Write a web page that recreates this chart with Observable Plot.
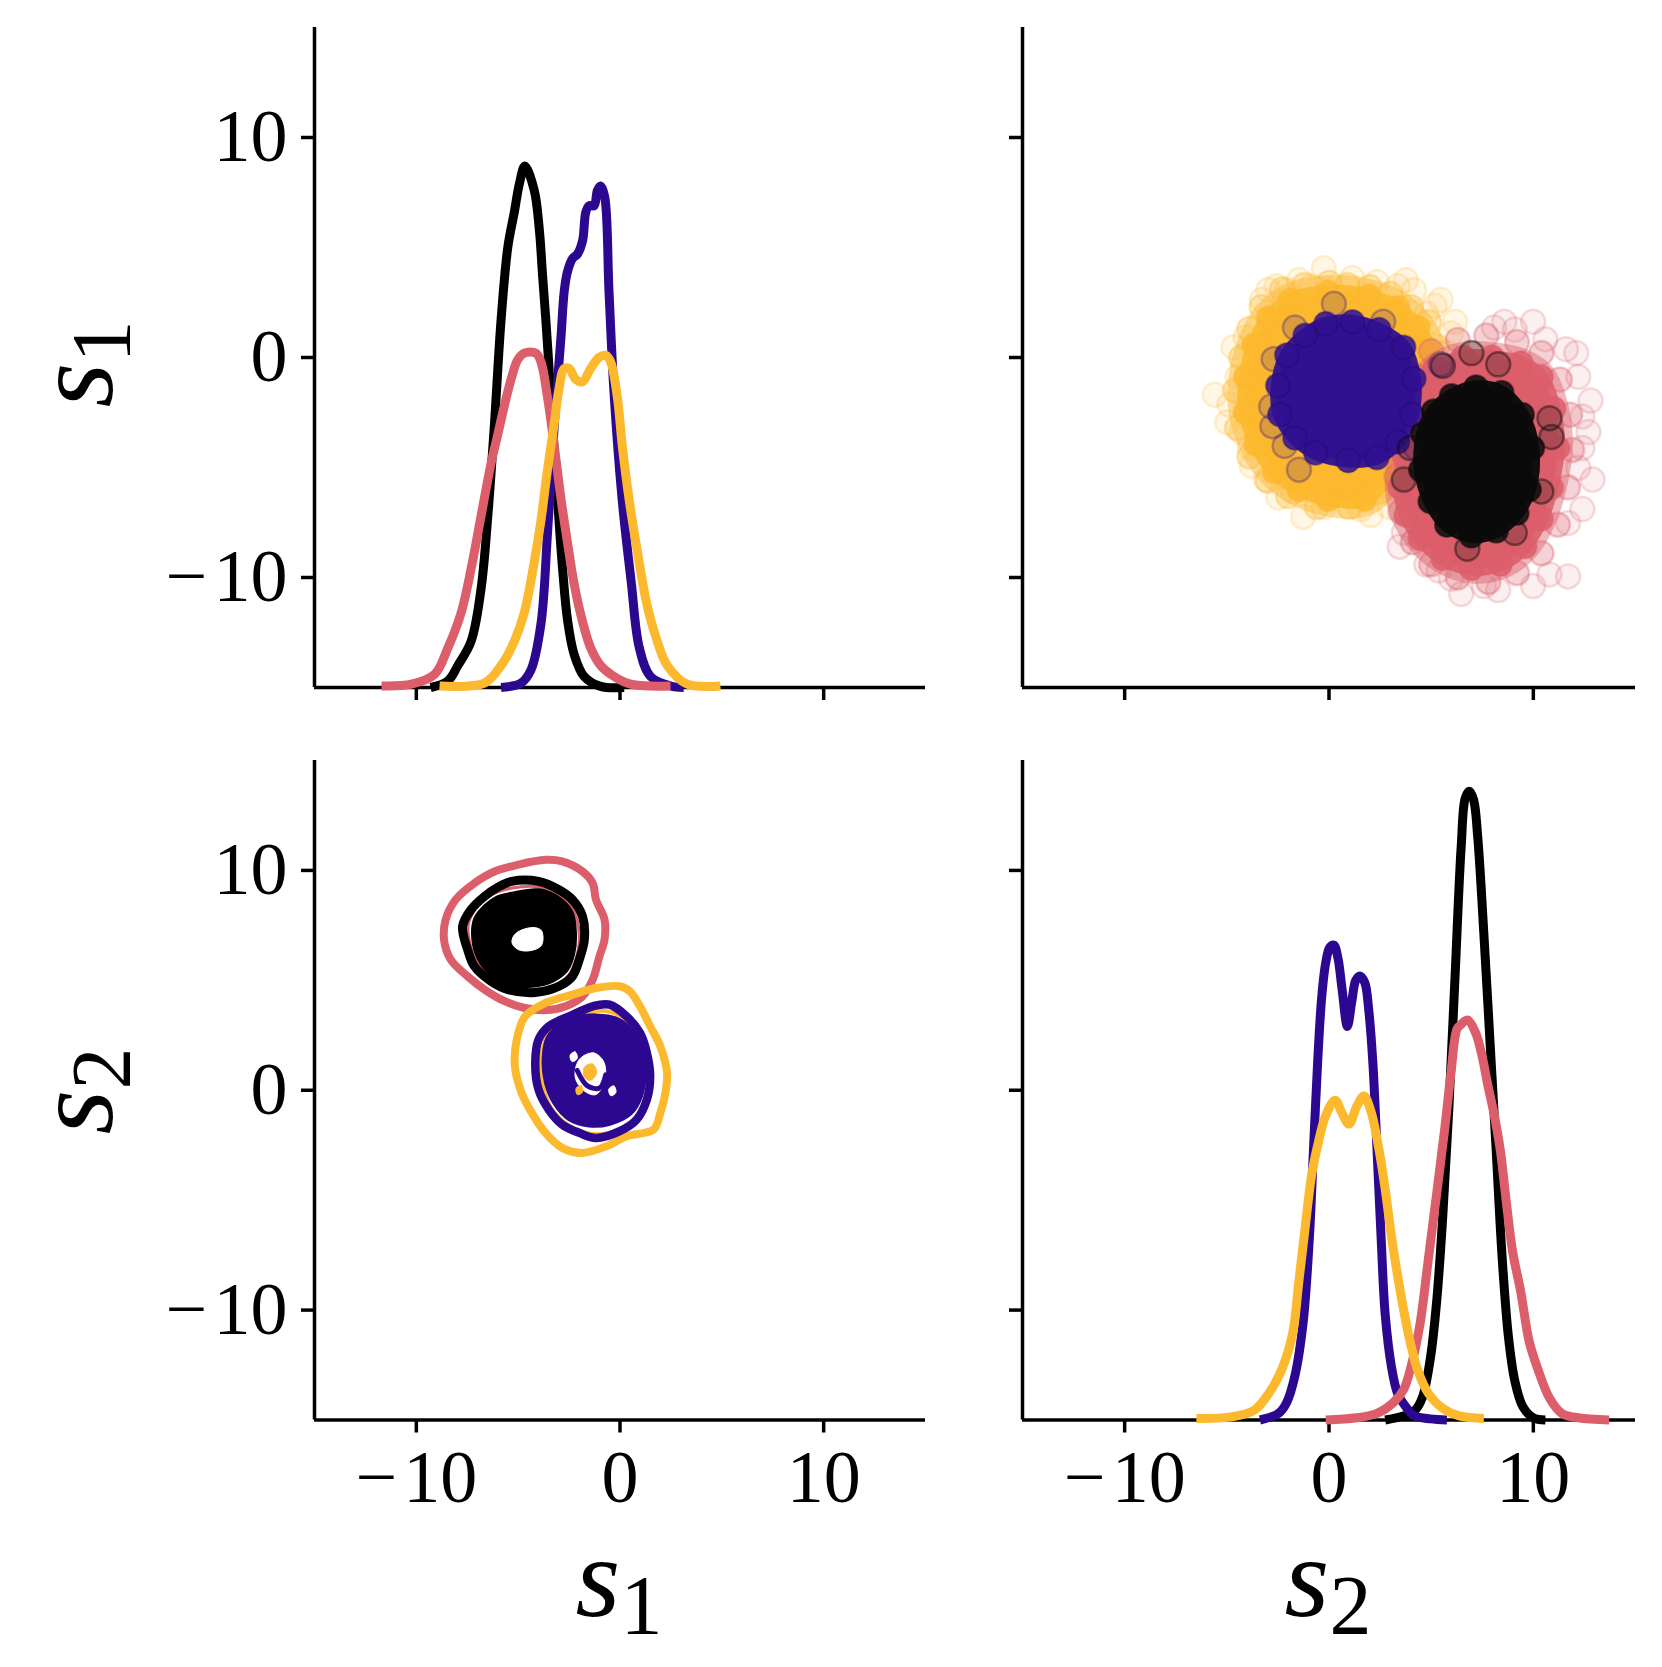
<!DOCTYPE html>
<html><head><meta charset="utf-8">
<script src="https://cdn.jsdelivr.net/npm/d3@7"></script>
<script src="https://cdn.jsdelivr.net/npm/@observablehq/plot@0.6"></script>
<style>
body{margin:0;background:#fff;}
#fig{position:relative;width:1662px;height:1667px;background:#fff;overflow:hidden;font-family:"Liberation Serif","Times New Roman",serif;}
.lab{position:absolute;font-size:115px;line-height:1;white-space:nowrap;color:#000;font-family:"Liberation Serif","Times New Roman",serif;}
.lab i{font-style:italic;}
.lab span.sub{font-size:84px;position:relative;top:18px;}
</style></head><body><div id="fig"></div>
<script>
// ---------- axes ----------
const axisDomain = [-15, 15];
const tickValues = [-10, 0, 10];
const varNames = ["1", "2"];

// ---------- diagonal: marginal densities of s1 (y read on displayed axis) ----------
const s1Black = [[-9.3,-15],[-8.45,-14.7],[-7.96,-14.0],[-7.31,-12.9],[-6.82,-10.5],[-6.49,-7.2],[-6.17,-3.1],[-5.84,1.7],[-5.51,5.0],[-5.19,6.6],[-4.94,7.9],[-4.67,8.7],[-4.21,7.6],[-3.96,5.8],[-3.80,3.7],[-3.64,1.7],[-3.47,-0.7],[-3.31,-3.1],[-3.07,-6.4],[-2.82,-9.6],[-2.58,-11.9],[-2.25,-13.5],[-1.76,-14.5],[-0.95,-14.95],[0.2,-15]];
const s1Indigo = [[-5.84,-15],[-4.86,-14.8],[-4.37,-14.2],[-3.88,-12.1],[-3.56,-8.0],[-3.23,-3.1],[-2.90,0.9],[-2.74,3.0],[-2.58,3.9],[-2.33,4.5],[-2.09,4.7],[-1.84,5.3],[-1.68,6.6],[-1.52,6.9],[-1.27,6.9],[-1.11,7.6],[-0.95,7.8],[-0.75,7.3],[-0.54,3.0],[-0.3,-1.5],[0.1,-6.4],[0.55,-10.2],[0.95,-13.2],[1.5,-14.5],[2.48,-14.93],[3.13,-15]];
const s1Pink = [[-11.71,-14.93],[-10.24,-14.85],[-9.10,-14.4],[-8.45,-13.2],[-7.80,-11.6],[-7.31,-9.6],[-6.82,-7.2],[-6.33,-4.8],[-6.00,-3.5],[-5.68,-2.2],[-5.35,-1.0],[-5.02,-0.1],[-4.70,0.2],[-4.13,0.2],[-3.88,-0.2],[-3.56,-1.8],[-3.23,-4.0],[-2.90,-6.4],[-2.58,-8.4],[-2.25,-10.3],[-1.84,-12.0],[-1.44,-13.2],[-0.95,-14.0],[-0.29,-14.5],[0.52,-14.85],[2.48,-14.93]];
const s1Yellow = [[-8.86,-14.93],[-6.66,-14.8],[-5.84,-14.0],[-5.19,-12.9],[-4.70,-11.6],[-4.21,-9.3],[-3.88,-7.4],[-3.56,-5.1],[-3.23,-3.0],[-2.99,-1.4],[-2.74,-0.5],[-2.50,-0.5],[-2.17,-1.0],[-1.84,-1.1],[-1.44,-0.5],[-1.03,0.0],[-0.70,0.1],[-0.46,-0.2],[-0.13,-1.8],[0.11,-4.0],[0.44,-6.4],[0.85,-8.8],[1.34,-11.3],[1.83,-12.9],[2.32,-14.0],[3.30,-14.85],[4.93,-14.93]];

// ---------- diagonal: marginal densities of s2 ----------
const s2Black = [[2.75,-15],[4.16,-14.6],[4.56,-14.0],[4.96,-12.2],[5.27,-9.6],[5.57,-5.7],[5.87,-0.75],[6.17,5.2],[6.47,11.1],[6.67,13.3],[6.87,13.6],[7.08,13.2],[7.28,11.5],[7.58,7.1],[7.88,2.2],[8.18,-2.7],[8.48,-7.7],[8.78,-11.2],[9.09,-13.2],[9.49,-14.4],[9.99,-14.9],[10.59,-15]];
const s2Indigo = [[-3.38,-15],[-2.47,-14.7],[-2.07,-14.2],[-1.67,-13.0],[-1.27,-10.6],[-0.96,-6.7],[-0.76,-2.7],[-0.56,1.2],[-0.36,4.2],[-0.16,5.8],[0.04,6.5],[0.24,6.6],[0.44,6.0],[0.64,4.6],[0.90,2.9],[1.11,4.0],[1.31,5.0],[1.51,5.2],[1.75,4.9],[1.95,3.6],[2.15,1.2],[2.35,-2.7],[2.55,-6.7],[2.75,-10.2],[3.06,-12.6],[3.36,-13.8],[3.76,-14.4],[4.16,-14.8],[4.96,-14.95],[5.77,-15]];
const s2Pink = [[-0.16,-15],[1.35,-14.9],[2.35,-14.7],[3.16,-14.2],[3.66,-13.6],[4.06,-12.4],[4.46,-10.6],[4.86,-7.7],[5.27,-4.7],[5.67,-1.7],[5.97,0.8],[6.27,2.8],[6.47,3.0],[6.77,3.2],[7.18,2.6],[7.48,1.6],[7.78,0.2],[8.08,-1.1],[8.38,-2.7],[8.68,-5.1],[8.98,-7.3],[9.39,-9.2],[9.79,-11.4],[10.19,-12.6],[10.79,-14.0],[11.40,-14.7],[12.20,-14.9],[13.71,-15]];
const s2Yellow = [[-6.49,-14.93],[-4.88,-14.87],[-3.68,-14.57],[-2.87,-13.68],[-2.27,-12.60],[-1.77,-11.02],[-1.47,-8.65],[-1.17,-6.28],[-0.86,-3.91],[-0.56,-2.53],[-0.16,-1.15],[0.30,-0.45],[0.64,-1.05],[0.98,-1.54],[1.35,-0.75],[1.71,-0.26],[2.05,-0.95],[2.45,-2.72],[2.75,-4.50],[3.06,-6.67],[3.36,-8.45],[3.66,-10.03],[3.96,-11.41],[4.36,-12.79],[4.86,-13.78],[5.57,-14.47],[6.37,-14.81],[7.58,-14.93]];

// ---------- upper-right scatter (x = s2, y = s1) ----------
const yellowCore = [[-1.87,2.62],[-0.06,2.98],[1.95,2.80],[3.36,2.26],[4.36,1.36],[4.86,0.38],[4.66,-0.88],[4.26,-2.67],[3.66,-4.29],[2.95,-5.37],[1.75,-6.45],[-0.06,-6.45],[-1.47,-6.00],[-2.67,-5.19],[-3.58,-3.93],[-4.08,-2.50],[-4.08,-0.88],[-3.68,0.56],[-2.97,1.81]];
const yellowMid = [[-2.3,3.1],[-1.2,3.3],[0.0,3.4],[0.9,3.3],[2.0,3.2],[3.0,2.9],[4.0,2.3],[4.9,1.6],[5.3,0.5],[5.2,-0.9],[4.8,-2.6],[4.3,-4.2],[3.6,-5.3],[2.5,-6.1],[1.0,-6.8],[-0.6,-6.8],[-2.0,-6.3],[-3.0,-5.6],[-3.9,-4.5],[-4.5,-3.2],[-4.6,-1.5],[-4.3,0.0],[-3.9,1.3],[-3.3,2.3]];
const yellowOut = [[-0.26,4.06],[-1.47,3.52],[-2.97,3.07],[-3.28,2.62],[-2.57,3.25],[2.35,3.43],[3.76,3.52],[3.36,3.25],[5.47,2.62],[6.17,1.63],[5.97,1.10],[5.17,2.35],[-4.68,0.47],[-4.08,0.92],[-5.59,-1.69],[-4.88,-2.14],[-4.98,-2.94],[-4.28,-3.39],[-3.88,-4.11],[-3.78,-4.92],[-3.08,-5.55],[-2.47,-6.36],[-1.77,-6.09],[-1.27,-7.25],[-0.26,-6.80],[2.05,-7.16],[1.55,-6.89],[2.95,-6.80],[3.96,-6.09],[4.56,-5.55],[3.16,-6.27],[-3.48,-0.88],[-4.48,-0.88],[-4.08,-2.32],[4.76,1.99],[4.16,3.07],[1.15,3.61],[-0.86,3.25],[-2.07,3.07],[5.77,0.20]];
const indigoCore = [[-0.16,1.54],[1.15,1.63],[2.45,1.27],[3.66,0.47],[4.16,-0.97],[4.06,-2.59],[3.36,-3.84],[2.35,-4.56],[0.94,-4.69],[-0.66,-4.34],[-1.67,-3.66],[-2.41,-2.59],[-2.51,-1.27],[-2.07,0.11],[-1.17,1.01]];
const indigoEdge = [[0.24,2.44],[-1.67,1.36],[-2.71,-0.07],[-2.83,-2.23],[-2.77,-3.12],[-1.47,-5.10],[5.47,-0.31],[2.65,1.63],[4.26,-4.11],[-2.17,-4.02]];
const pinkCore = [[5.17,-0.52],[6.57,0.02],[7.98,0.02],[9.39,-0.25],[10.39,-0.88],[11.0,-2.32],[11.20,-4.11],[10.89,-5.91],[10.39,-7.34],[9.59,-8.60],[8.38,-9.41],[6.97,-9.59],[5.57,-9.14],[4.46,-8.24],[3.76,-7.16],[3.46,-5.91],[3.66,-4.47],[3.96,-3.03],[4.36,-1.60]];
const pinkMid = [[5.0,0.3],[6.3,0.8],[7.7,1.0],[9.2,0.7],[10.4,0.2],[11.3,-1.0],[11.8,-2.6],[11.9,-4.2],[11.7,-5.9],[11.2,-7.6],[10.4,-8.9],[9.2,-9.8],[7.8,-10.2],[6.3,-10.0],[5.0,-9.4],[4.1,-8.4],[3.5,-7.0],[3.3,-5.4],[3.5,-3.8],[3.9,-2.3],[4.4,-0.9]];
const pinkOut = [[9.99,1.63],[9.09,1.27],[8.08,1.36],[10.59,0.83],[12.10,0.20],[12.20,-0.88],[12.80,-1.96],[12.40,-2.68],[12.70,-3.39],[12.40,-4.11],[12.90,-5.55],[12.40,-6.89],[11.70,-7.52],[11.70,-9.95],[9.99,-10.39],[8.28,-10.57],[6.47,-10.75],[5.37,-9.68],[4.76,-9.41],[3.46,-8.60],[3.66,-7.97],[12.20,-5.01],[11.60,0.38],[8.58,1.63],[5.97,-10.04],[7.58,-10.39],[10.79,-9.86]];
const blackCore = [[6.0,-1.75],[7.2,-1.35],[8.45,-1.6],[9.45,-2.6],[9.95,-4.11],[9.79,-6.00],[9.19,-7.07],[8.18,-7.88],[6.97,-8.10],[5.77,-7.61],[4.96,-6.54],[4.50,-5.10],[4.60,-3.48],[5.13,-2.44]];
const blackEdge = [[6.97,0.20],[8.28,-0.31],[5.57,-0.38],[10.79,-2.76],[10.89,-3.61],[10.39,-6.09],[6.77,-8.69],[9.09,-7.97],[3.66,-5.55],[3.96,-4.11]];

// ---------- lower-left contours (x = s1, y = s2) ----------
const pinkRing = [[-3.66,10.48],[-2.84,10.41],[-1.84,9.95],[-1.34,9.42],[-1.18,8.67],[-0.76,7.76],[-0.76,6.85],[-1.01,6.09],[-1.34,5.03],[-1.84,4.27],[-2.67,3.82],[-3.66,3.64],[-4.66,3.74],[-5.66,4.05],[-6.65,4.58],[-7.48,5.18],[-8.31,5.94],[-8.64,6.85],[-8.56,7.76],[-8.07,8.67],[-7.15,9.42],[-6.16,9.95],[-5.00,10.26]];
const pinkRing2 = [[-5.3,9.2],[-4.0,9.25],[-2.95,8.85],[-2.3,8.2],[-2.0,7.1],[-2.15,6.0],[-2.55,5.2],[-3.2,4.75],[-4.25,4.6],[-5.45,4.75],[-6.3,5.15],[-7.0,5.8],[-7.35,6.6],[-7.45,7.55],[-7.05,8.3],[-6.3,8.9]];
const blackRing = [[-5.32,9.50],[-4.00,9.50],[-3.00,9.12],[-2.34,8.67],[-1.84,7.91],[-1.75,6.85],[-2.00,5.94],[-2.34,5.18],[-3.00,4.73],[-4.16,4.45],[-5.49,4.58],[-6.32,4.95],[-7.15,5.64],[-7.48,6.39],[-7.73,7.45],[-7.32,8.21],[-6.65,8.82],[-5.99,9.24]];
const blackFill = [[-5.32,8.89],[-4.00,9.05],[-3.00,8.67],[-2.42,8.06],[-2.26,7.15],[-2.34,6.24],[-2.67,5.48],[-3.33,5.03],[-4.33,4.80],[-5.49,4.88],[-6.32,5.33],[-6.90,6.02],[-7.15,6.85],[-7.07,7.76],[-6.57,8.36],[-5.99,8.74]];
const blackHole = [[-5.2,7.05],[-4.8,7.3],[-4.2,7.4],[-3.85,7.25],[-3.85,6.6],[-4.4,6.35],[-5.0,6.4],[-5.3,6.7]];
const yellowRing = [[-0.01,4.73],[0.48,4.50],[0.98,3.82],[1.48,2.91],[1.98,2.00],[2.31,0.79],[2.23,-0.12],[1.98,-1.03],[1.65,-1.79],[0.32,-2.09],[-0.68,-2.55],[-1.84,-2.85],[-2.84,-2.62],[-3.66,-1.94],[-4.33,-1.03],[-4.83,-0.12],[-5.16,1.09],[-5.07,2.30],[-4.66,3.36],[-3.66,3.97],[-2.34,4.35],[-1.18,4.65]];
const yellowRing2 = [[-1.3,3.6],[-0.4,3.55],[0.45,3.1],[1.1,2.3],[1.4,1.0],[1.35,-0.3],[0.9,-1.35],[0.0,-1.8],[-1.2,-2.0],[-2.2,-1.75],[-3.0,-1.25],[-3.55,-0.5],[-3.85,0.6],[-3.85,1.7],[-3.4,2.7],[-2.4,3.3]];
const indigoRing = [[-1.34,3.82],[-0.51,3.89],[0.32,3.36],[0.98,2.61],[1.32,1.70],[1.48,0.64],[1.32,-0.42],[0.82,-1.33],[-0.01,-1.86],[-1.18,-2.17],[-2.00,-1.94],[-2.84,-1.56],[-3.50,-0.88],[-4.00,0.03],[-4.16,1.24],[-4.00,2.30],[-3.50,2.91],[-2.50,3.36]];
const indigoFill = [[-1.18,3.36],[-0.18,3.21],[0.48,2.76],[0.90,2.00],[1.15,0.79],[0.98,-0.27],[0.48,-1.03],[-0.51,-1.48],[-1.51,-1.56],[-2.50,-1.26],[-3.17,-0.58],[-3.58,0.33],[-3.70,1.39],[-3.50,2.38],[-2.84,2.98],[-2.00,3.29]];
const indigoHole = [[-2.0,1.4],[-1.3,1.7],[-0.8,1.3],[-0.75,0.4],[-1.2,-0.2],[-1.8,0.0],[-2.2,0.6]];
const indigoHole2 = [[-2.45,1.6],[-2.2,1.75],[-2.1,1.45],[-2.35,1.3]];
const indigoHole3 = [[-0.55,0.05],[-0.3,0.2],[-0.2,-0.1],[-0.45,-0.25]];
const yellowSpot = [[-1.75,1.05],[-1.35,1.2],[-1.15,0.8],[-1.45,0.45],[-1.75,0.6]];
const yellowSpot2 = [[-2.15,0.1],[-1.9,0.2],[-1.85,-0.1],[-2.1,-0.2]];
const indigoSwirl = [[-2.1,0.9],[-1.6,0.2],[-1.0,0.1],[-0.7,0.7]];

// ---------- styling ----------
const C = {black: "#000000", indigo: "#2c0891", pink: "#dc5e6b", yellow: "#fdb92e"};
const xy = {x: d => d[0], y: d => d[1]};
const fmt = d => d < 0 ? "\u2212\u200A" + Math.abs(d) : String(d);
const blank = () => "";
const fig = document.getElementById("fig");

function axes(showX, showY) {
  return [
    Plot.ruleX([axisDomain[0]], {stroke: "#000", strokeWidth: 3.5}),
    Plot.ruleY([axisDomain[0]], {stroke: "#000", strokeWidth: 3.5}),
    Plot.axisX({ticks: tickValues, tickSize: 13, tickPadding: 16, tickFormat: showX ? fmt : blank, fontSize: 74, strokeWidth: 3.5, label: null}),
    Plot.axisY({ticks: tickValues, tickSize: 13, tickPadding: 14, tickFormat: showY ? fmt : blank, fontSize: 74, strokeWidth: 3.5, label: null})
  ];
}

function panel(left, top, w, h, m, marks) {
  const svg = Plot.plot({
    width: w, height: h,
    marginLeft: m[0], marginTop: m[1], marginRight: m[2], marginBottom: m[3],
    x: {domain: axisDomain}, y: {domain: axisDomain},
    style: {fontFamily: "Liberation Serif, Times New Roman, serif", background: "transparent", overflow: "visible", color: "#000"},
    marks
  });
  svg.style.position = "absolute";
  svg.style.left = left + "px";
  svg.style.top = top + "px";
  svg.style.maxWidth = "none";
  fig.appendChild(svg);
}

const dens = (data, col) => Plot.line(data, {...xy, stroke: col, strokeWidth: 9, curve: "catmull-rom", strokeLinejoin: "round", strokeLinecap: "butt"});
const ring = (data, col, sw) => Plot.line(data, {...xy, stroke: col, strokeWidth: sw, curve: "catmull-rom-closed", strokeLinejoin: "round"});
const blob = (data, col, sw) => Plot.line(data, {...xy, stroke: col, fill: col, strokeWidth: sw, curve: "catmull-rom-closed", strokeLinejoin: "round"});

function cloud(core, mid, edge, col, o) {
  const cc = o.coreCol || col;
  return [
    Plot.line(core, {...xy, curve: "catmull-rom-closed", stroke: col, strokeWidth: o.halo, strokeOpacity: o.haloOp, strokeLinejoin: "round"}),
    Plot.dot(edge, {...xy, r: 12, fill: col, fillOpacity: o.edgeFill, stroke: col, strokeOpacity: o.edgeStroke, strokeWidth: 2.5}),
    Plot.dot(mid, {...xy, r: 12, fill: col, fillOpacity: o.midFill, stroke: col, strokeOpacity: o.midStroke, strokeWidth: 2.5}),
    Plot.line(core, {...xy, curve: "catmull-rom-closed", fill: cc, stroke: cc, strokeWidth: 14, strokeOpacity: 0.9, strokeLinejoin: "round"}),
    Plot.dot(core, {...xy, r: 12, fill: cc, fillOpacity: 0.85, stroke: o.rimCol || cc, strokeOpacity: o.rim, strokeWidth: 2})
  ];
}

// top-left: s1 marginal
panel(0, 0, 950, 720, [314, 27, 25, 33], [
  ...axes(false, true),
  dens(s1Black, C.black), dens(s1Indigo, C.indigo), dens(s1Pink, C.pink), dens(s1Yellow, C.yellow)
]);

// top-right: scatter
panel(950, 0, 712, 720, [72, 27, 27, 33], [
  ...cloud(yellowCore, yellowMid, yellowOut, C.yellow, {halo: 34, haloOp: 0.45, midFill: 0.3, midStroke: 0.35, edgeFill: 0.12, edgeStroke: 0.22, rim: 0.3}),
  ...cloud(pinkCore, pinkMid, pinkOut, C.pink, {halo: 30, haloOp: 0.45, midFill: 0.28, midStroke: 0.35, edgeFill: 0.1, edgeStroke: 0.22, rim: 0.3}),
  ...cloud(indigoCore, [], indigoEdge, C.indigo, {halo: 12, haloOp: 0.5, midFill: 0, midStroke: 0, edgeFill: 0.16, edgeStroke: 0.3, rim: 0.25, rimCol: "#1a0560", coreCol: "#301190"}),
  ...cloud(blackCore, [], blackEdge, "#0a0a0a", {halo: 14, haloOp: 0.55, midFill: 0, midStroke: 0, edgeFill: 0.22, edgeStroke: 0.45, rim: 0.5}),
  ...axes(false, false)
]);

// bottom-left: contours
panel(0, 720, 950, 947, [314, 40, 25, 247.5], [
  ...axes(true, true),
  ring(pinkRing, C.pink, 8),
  ring(yellowRing, C.yellow, 8),
  ring(pinkRing2, C.pink, 3),
  ring(blackRing, C.black, 9),
  blob(blackFill, C.black, 6),
  blob(blackHole, "#ffffff", 1),
  ring(yellowRing2, C.yellow, 4),
  ring(indigoRing, C.indigo, 8.5),
  blob(indigoFill, C.indigo, 6),
  blob(indigoHole, "#ffffff", 1),
  blob(indigoHole2, "#ffffff", 1),
  blob(indigoHole3, "#ffffff", 1),
  blob(yellowSpot, C.yellow, 1),
  blob(yellowSpot2, C.yellow, 1),
  Plot.line(indigoSwirl, {...xy, stroke: C.indigo, strokeWidth: 5, curve: "catmull-rom"})
]);

// bottom-right: s2 marginal
panel(950, 720, 712, 947, [72, 40, 27, 247.5], [
  ...axes(true, false),
  dens(s2Black, C.black), dens(s2Indigo, C.indigo), dens(s2Pink, C.pink), dens(s2Yellow, C.yellow)
]);

// axis labels
function label(idx, cx, cy, rotate) {
  const d = document.createElement("div");
  d.className = "lab";
  d.innerHTML = "<i>s</i><span class='sub'>" + varNames[idx] + "</span>";
  d.style.left = cx + "px";
  d.style.top = cy + "px";
  d.style.transform = rotate ? "translate(-50%,-50%) rotate(-90deg)" : "translateX(-50%)";
  fig.appendChild(d);
}
label(0, 619, 1520, false);
label(1, 1328, 1520, false);
label(0, 73, 364, true);
label(1, 73, 1091, true);
</script></body></html>
